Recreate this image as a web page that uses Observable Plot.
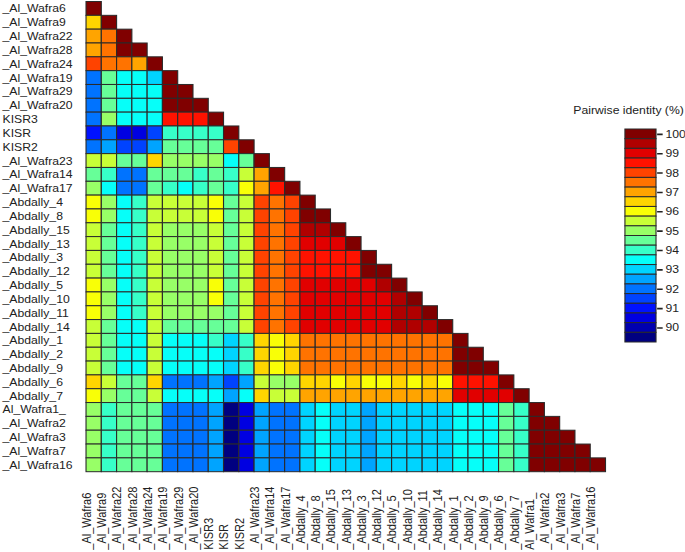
<!DOCTYPE html>
<html>
<head>
<meta charset="utf-8">
<script src="https://cdn.jsdelivr.net/npm/d3@7"></script>
<script src="https://cdn.jsdelivr.net/npm/@observablehq/plot@0.6"></script>
<style>
  html, body { margin: 0; padding: 0; background: #fff; overflow: hidden; }
  #wrap { position: relative; width: 617px; height: 552px; transform: scaleX(1.11); transform-origin: 0 0; }
  #main { position: absolute; left: 0; top: 0; width: 617px; }
  #legend { position: absolute; left: 500px; top: 90px; width: 117px; }
</style>
</head>
<body>
<div id="wrap"><div id="main"></div><div id="legend"></div></div>
<script>
const labels = [
  "_Al_Wafra6", "_Al_Wafra9", "_Al_Wafra22", "_Al_Wafra28", "_Al_Wafra24",
  "_Al_Wafra19", "_Al_Wafra29", "_Al_Wafra20", "KISR3", "KISR", "KISR2",
  "_Al_Wafra23", "_Al_Wafra14", "_Al_Wafra17",
  "_Abdally_4", "_Abdally_8", "_Abdally_15", "_Abdally_13", "_Abdally_3",
  "_Abdally_12", "_Abdally_5", "_Abdally_10", "_Abdally_11", "_Abdally_14",
  "_Abdally_1", "_Abdally_2", "_Abdally_9", "_Abdally_6", "_Abdally_7",
  "Al_Wafra1_", "_Al_Wafra2", "_Al_Wafra3", "_Al_Wafra7", "_Al_Wafra16"
];

// Lower-triangle pairwise identity (%), row i lists columns 1..i
const identityRows = [
  [100],
  [96.5, 100],
  [97, 97.5, 100],
  [97, 97.5, 100, 100],
  [98, 97.5, 97.5, 97, 100],
  [92, 94.5, 93.5, 93.5, 93, 100],
  [92, 94.5, 93.5, 93.5, 93.5, 100, 100],
  [92, 94.5, 93.5, 93.5, 93.5, 100, 100, 100],
  [92, 95, 93.5, 93.5, 93.5, 98.5, 98.5, 98.5, 100],
  [91, 92, 90.5, 90.5, 91.5, 94, 94, 94, 94, 100],
  [92, 92.5, 91.5, 91.5, 92.5, 94.5, 94.5, 94.5, 94.5, 98, 100],
  [95.5, 95.5, 94.5, 94.5, 96.5, 95, 95, 95, 95, 93.5, 94.5, 100],
  [94.5, 94, 92, 92, 94.5, 94.5, 94.5, 94, 94.5, 94, 95.5, 97, 100],
  [95, 93.5, 92, 92, 94.5, 94, 93.5, 94, 94.5, 94, 96, 97, 98.5, 100],
  [96, 95, 93.5, 94, 95.5, 95.5, 95.5, 95.5, 96, 94.5, 95.5, 98, 97.5, 98, 100],
  [96, 95, 93.5, 94, 95.5, 95.5, 95.5, 95.5, 96, 94.5, 95.5, 98, 97.5, 98, 100, 100],
  [95.5, 94.5, 93.5, 94, 95.5, 95, 95, 95, 95.5, 94.5, 95.5, 98, 97.5, 98, 99.5, 99.5, 100],
  [95.5, 94.5, 93.5, 94, 95.5, 95, 95, 95, 95.5, 94.5, 95.5, 98, 97.5, 98, 99, 99, 99, 100],
  [95.5, 94.5, 93.5, 94, 95.5, 95, 95, 95, 95.5, 94.5, 95.5, 98, 97.5, 98, 98.5, 98.5, 98.5, 98.5, 100],
  [95.5, 94.5, 93.5, 94, 95.5, 95, 95, 95, 95.5, 94.5, 95.5, 98, 97.5, 98, 98.5, 98.5, 98.5, 98.5, 100, 100],
  [96, 95, 93.5, 94, 95.5, 95, 95, 95, 96, 94.5, 95.5, 98, 97.5, 98, 99, 99, 99, 99, 99, 99.5, 100],
  [96, 95, 93.5, 94, 95.5, 95, 95, 95, 96, 94.5, 95.5, 98, 97.5, 98, 99, 99, 99, 99, 99, 99, 99.5, 100],
  [96, 95, 93.5, 94, 95.5, 95, 95, 95, 95, 94.5, 95.5, 98, 97.5, 98, 99, 99, 99, 99, 99, 99, 99.5, 99.5, 100],
  [95.5, 94.5, 93.5, 93.5, 95.5, 94.5, 94.5, 94.5, 94.5, 94.5, 95.5, 98, 97.5, 98, 99, 99, 99, 99, 99, 99, 99.5, 99.5, 99.5, 100],
  [95.5, 94.5, 93.5, 93.5, 95.5, 93.5, 93.5, 93.5, 94, 93, 94, 96.5, 96, 96.5, 97.5, 97.5, 97.5, 97.5, 97.5, 97.5, 97.5, 97.5, 97.5, 97.5, 100],
  [95.5, 94.5, 93.5, 93.5, 95.5, 93.5, 93.5, 93.5, 93.5, 93, 94, 96.5, 96, 96.5, 97.5, 97.5, 97.5, 97.5, 97.5, 97.5, 97.5, 97.5, 97.5, 97.5, 100, 100],
  [95.5, 94.5, 93.5, 93.5, 95.5, 93.5, 93.5, 93.5, 93.5, 93, 94, 96.5, 96, 96.5, 97.5, 97.5, 97.5, 97.5, 97.5, 97.5, 97.5, 97.5, 97.5, 97.5, 100, 100, 100],
  [96.5, 95.5, 94.5, 94.5, 96.5, 92, 92, 92, 92.5, 91.5, 92.5, 95.5, 95, 95, 96.5, 96.5, 96, 96.5, 96, 96, 96.5, 96, 96.5, 96, 98.5, 98.5, 98.5, 100],
  [96, 95, 94.5, 94.5, 95.5, 93.5, 93.5, 93.5, 93.5, 92.5, 93.5, 96.5, 95.5, 95.5, 97, 97, 97, 97, 97, 97, 97, 97, 97, 97, 99, 99, 99, 99, 100],
  [95, 94, 94.5, 94.5, 94.5, 92, 92, 92, 92.5, 89.5, 90.5, 92.5, 92, 92, 93, 93.5, 93, 93, 92.5, 93, 93, 93, 93, 93, 93.5, 93.5, 93.5, 94.5, 94, 100],
  [95, 94, 94.5, 94.5, 94.5, 92, 92, 92, 92.5, 89.5, 90.5, 92.5, 92, 92, 93, 93.5, 93, 93, 92.5, 93, 93, 93, 93, 93, 93.5, 93.5, 93.5, 94.5, 94, 100, 100],
  [95, 94, 94.5, 94.5, 94.5, 92, 92, 92, 92.5, 89.5, 90.5, 92.5, 92, 92, 93, 93.5, 93, 93, 92.5, 93, 93, 93, 93, 93, 93.5, 93.5, 93.5, 94.5, 94, 100, 100, 100],
  [95, 94, 94.5, 94.5, 94.5, 92, 92, 92, 92.5, 89.5, 90.5, 92.5, 92, 92, 93, 93.5, 93, 93, 92.5, 93, 93, 93, 93, 93, 93.5, 93.5, 93.5, 94.5, 94, 100, 100, 100, 100],
  [95, 94, 94.5, 94.5, 94.5, 92, 92, 92, 92.5, 89.5, 90.5, 92.5, 92, 92, 93, 93.5, 93, 93, 92.5, 93, 93, 93, 93, 93, 93.5, 93.5, 93.5, 94.5, 94, 100, 100, 100, 100, 100]
];

const legendLevels = [100, 99.5, 99, 98.5, 98, 97.5, 97, 96.5, 96, 95.5, 95, 94.5, 94, 93.5, 93, 92.5, 92, 91.5, 91, 90.5, 90, 89.5];
const legendTicks = [90, 91, 92, 93, 94, 95, 96, 97, 98, 99, 100];
const legendTitle = "Pairwise identity (%)";

// classic "jet" colormap
function jet(t) {
  const c = v => Math.max(0, Math.min(1, v));
  const r = c(1.5 - Math.abs(4 * t - 3));
  const g = c(1.5 - Math.abs(4 * t - 2));
  const b = c(1.5 - Math.abs(4 * t - 1));
  return `rgb(${Math.round(r * 255)},${Math.round(g * 255)},${Math.round(b * 255)})`;
}
const colorScale = {type: "linear", domain: [89.5, 100], interpolate: jet};

const cells = identityRows.flatMap((row, i) =>
  row.map((v, j) => ({row: labels[i], col: labels[j], value: v}))
);

const font = "'Liberation Sans', Arial, sans-serif";

const main = Plot.plot({
  width: 617,
  height: 552,
  marginLeft: 77.5,
  marginRight: 71.5,
  marginTop: 1.5,
  marginBottom: 80.3,
  x: {domain: labels, padding: 0, round: false, axis: null},
  y: {domain: labels, padding: 0, round: false, axis: null},
  color: colorScale,
  style: {fontFamily: font, background: "white"},
  marks: [
    Plot.cell(cells, {x: "col", y: "row", fill: "value", stroke: "#2a2a2a", strokeWidth: 1, inset: 0}),
    Plot.text(labels, {y: d => d, text: d => d, frameAnchor: "left", textAnchor: "start", dx: -75.7, fontSize: 11, fill: "#222"}),
    Plot.text(labels, {x: d => d, text: d => d, frameAnchor: "bottom", textAnchor: "start", rotate: -90, dx: -3, dy: 77.5, fontSize: 11, fill: "#222"})
  ]
});
document.getElementById("main").append(main);

const legend = Plot.plot({
  width: 117,
  height: 265,
  marginLeft: 63,
  marginRight: 26,
  marginTop: 39,
  marginBottom: 13,
  x: {domain: [0, 1], axis: null},
  y: {domain: [89.25, 100.25], axis: null},
  color: colorScale,
  style: {fontFamily: font, background: "white"},
  marks: [
    Plot.rect(legendLevels, {x1: 0, x2: 1, y1: d => d - 0.25, y2: d => d + 0.25, fill: d => d, stroke: "#2a2a2a", strokeWidth: 1}),
    Plot.axisY(legendTicks, {anchor: "right", tickSize: 5, tickPadding: 3, fontSize: 11, tickFormat: d => d, strokeWidth: 1.6, stroke: "#222", fill: "#222"}),
    Plot.text([legendTitle], {text: d => d, frameAnchor: "top", lineAnchor: "middle", dx: -11.2, dy: -19, fontSize: 11, fill: "#222"})
  ]
});
document.getElementById("legend").append(legend);
</script>
</body>
</html>
